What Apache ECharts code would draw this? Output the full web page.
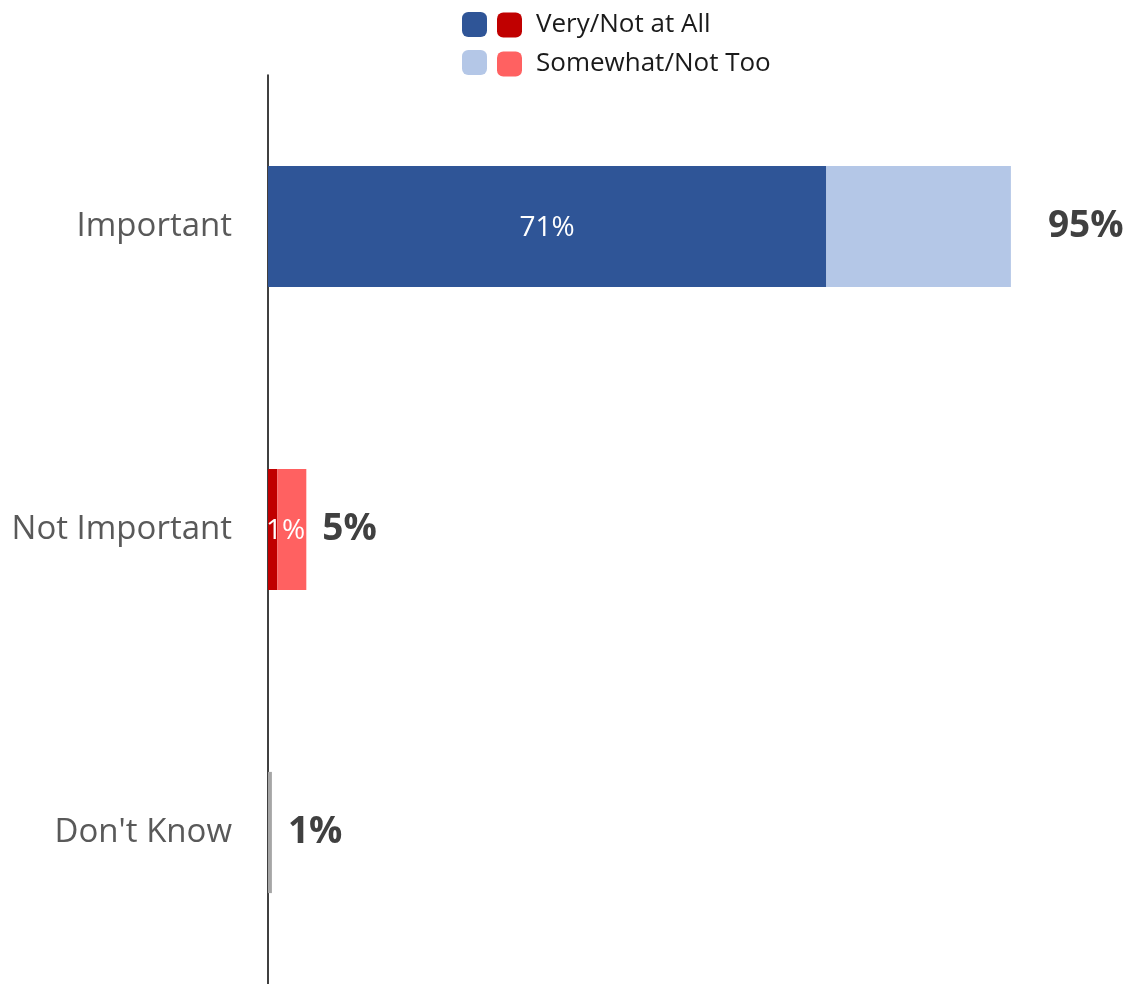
<!DOCTYPE html>
<html>
<head>
<meta charset="utf-8">
<script src="https://cdn.jsdelivr.net/npm/echarts@6/dist/echarts.min.js"></script>
<style>
html,body{margin:0;padding:0;background:#fff;}
#main{width:1139px;height:984px;}
</style>
</head>
<body>
<div id="main"></div>
<script>
// categories, top to bottom
var categories = ['Important', 'Not Important', "Don't Know"];
// segment values (%)
var veryData = [71.4, '-', '-'];
var notAtAllData = ['-', 1.2, '-'];
var somewhatData = [23.6, '-', '-'];
var notTooData = ['-', 3.7, '-'];
var dontKnowData = ['-', '-', 0.5];
// totals shown to the right of each bar
var totalLabels = ['95%', '5%', '1%'];
// inner labels
var innerLabels = ['71%', '1%', ''];

var font = '"Open Sans", Lato, sans-serif';

var myChart = echarts.init(document.getElementById('main'));

// total label at the end of a bar
function totalLabel(dist) {
	return {
		show: true,
		position: 'right',
		distance: dist,
		formatter: function (p) { return totalLabels[p.dataIndex]; },
		color: '#404040',
		fontSize: 37,
		fontWeight: 'bold',
		fontFamily: font
	};
}
// white label inside the dark segment
function innerLabel(offset) {
	return {
		show: true,
		position: 'inside',
		offset: offset,
		formatter: function (p) { return innerLabels[p.dataIndex]; },
		color: '#fff',
		fontSize: 28,
		fontFamily: font
	};
}

var option = {
	animation: false,
	legend: [
		{
			// left column of swatches (blue), no text
			data: ['Very', 'Somewhat'],
			orient: 'vertical',
			left: 462,
			top: 12,
			padding: 0,
			itemWidth: 25,
			itemHeight: 25,
			itemGap: 13,
			icon: 'roundRect',
			formatter: function () { return ''; },
			selectedMode: false,
			textStyle: { fontSize: 1 }
		},
		{
			data: ['Not at All', 'Not Too'],
			orient: 'vertical',
			left: 497,
			top: 12,
			padding: 0,
			itemWidth: 25,
			itemHeight: 25,
			itemGap: 13,
			icon: 'roundRect',
			selectedMode: false,
			formatter: function (name) {
				return name == 'Not at All' ? 'Very/Not at All' : 'Somewhat/Not Too';
			},
			textStyle: { fontSize: 26, color: '#1a1a1a', fontFamily: font, padding: [8, 0, 0, 9] }
		}
	],
	grid: {
		left: 268,
		right: 89,
		top: 75,
		bottom: 0,
		containLabel: false
	},
	xAxis: {
		type: 'value',
		min: 0,
		max: 100,
		show: false
	},
	yAxis: {
		type: 'category',
		inverse: true,
		data: categories,
		axisTick: { show: false },
		axisLine: { show: true, lineStyle: { color: '#000', width: 1.5 } },
		axisLabel: {
			margin: 36,
			color: '#595959',
			fontSize: 33,
			fontFamily: font
		}
	},
	series: [
		{
			name: 'Very',
			type: 'bar',
			stack: 'a',
			barWidth: '40%',
			itemStyle: { color: '#2f5597' },
			label: innerLabel([0, 2]),
			data: veryData
		},
		{
			name: 'Not at All',
			type: 'bar',
			stack: 'a',
			itemStyle: { color: '#c00000' },
			label: innerLabel([13, 2]),
			data: notAtAllData
		},
		{
			name: 'Somewhat',
			type: 'bar',
			stack: 'a',
			itemStyle: { color: '#b4c7e7' },
			label: totalLabel(37),
			data: somewhatData
		},
		{
			name: 'Not Too',
			type: 'bar',
			stack: 'a',
			itemStyle: { color: '#ff6161' },
			label: totalLabel(16),
			data: notTooData
		},
		{
			name: "Don't Know",
			type: 'bar',
			stack: 'a',
			itemStyle: { color: '#a6a6a6' },
			label: totalLabel(16),
			data: dontKnowData
		}
	]
};
myChart.setOption(option);
</script>
</body>
</html>
